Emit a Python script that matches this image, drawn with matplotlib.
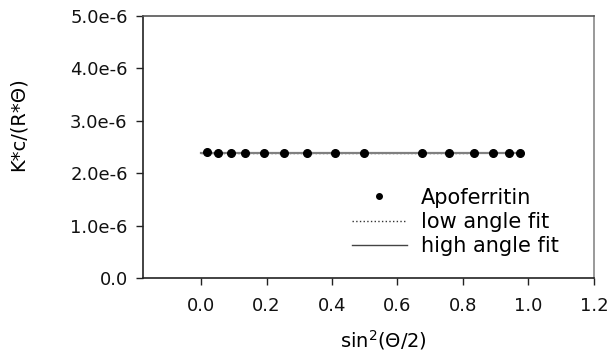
import matplotlib
matplotlib.use("Agg")
import matplotlib.pyplot as plt
from matplotlib.lines import Line2D

plt.rcParams['font.family'] = ['DejaVu Sans']
plt.rcParams['mathtext.fontset'] = 'dejavusans'

# Data
sin2_half_theta = [0.017, 0.051, 0.091, 0.135, 0.191, 0.252, 0.324, 0.410,
                   0.498, 0.675, 0.757, 0.833, 0.892, 0.940, 0.974]
kc_over_r = [2.40e-6, 2.39e-6, 2.39e-6, 2.39e-6, 2.39e-6, 2.39e-6, 2.39e-6, 2.39e-6,
             2.39e-6, 2.39e-6, 2.39e-6, 2.39e-6, 2.39e-6, 2.39e-6, 2.39e-6]
low_fit_x = [0.0, 0.83]
low_fit_y = [2.39e-6, 2.39e-6]
high_fit_x = [0.0, 0.985]
high_fit_y = [2.39e-6, 2.39e-6]

x_ticks = [0.0, 0.2, 0.4, 0.6, 0.8, 1.0, 1.2]
x_tick_labels = ["0.0", "0.2", "0.4", "0.6", "0.8", "1.0", "1.2"]
y_ticks = [0.0, 1e-6, 2e-6, 3e-6, 4e-6, 5e-6]
y_tick_labels = ["0.0", "1.0e-6", "2.0e-6", "3.0e-6", "4.0e-6", "5.0e-6"]

fig = plt.figure(figsize=(6.16, 3.54), dpi=100)
ax = fig.add_axes([0.232, 0.2147, 0.732, 0.7403])

ax.plot(low_fit_x, low_fit_y, linestyle=':', color='#333333', linewidth=1.0, zorder=2)
ax.plot(high_fit_x, high_fit_y, linestyle='-', color='#808080', linewidth=1.6, zorder=2)
ax.plot(sin2_half_theta, kc_over_r, linestyle='none', marker='o', markersize=5.5,
        color='black', zorder=3)

ax.set_xlim(-0.178, 1.2)
ax.set_ylim(0, 5e-6)
ax.set_xticks(x_ticks)
ax.set_xticklabels(x_tick_labels, fontsize=13)
ax.set_yticks(y_ticks)
ax.set_yticklabels(y_tick_labels, fontsize=13)
ax.tick_params(axis='both', direction='out', length=5, width=1, colors='#222222',
               labelcolor='#111111')
ax.tick_params(axis='x', pad=9)
ax.tick_params(axis='y', pad=6)

ax.spines['left'].set_color('#222222')
ax.spines['bottom'].set_color('#222222')
ax.spines['top'].set_color('#555555')
ax.spines['right'].set_color('#888888')
for s in ax.spines.values():
    s.set_linewidth(1.2)

ax.set_xlabel("sin$^{2}$(Θ/2)", fontsize=14)
ax.set_ylabel("K*c/(R*Θ)", fontsize=14)
ax.xaxis.set_label_coords(0.532, -0.19)
ax.yaxis.set_label_coords(-0.255, 0.588)

handles = [
    Line2D([], [], linestyle='none', marker='o', markersize=4, color='black'),
    Line2D([], [], linestyle=':', color='#333333', linewidth=1.0),
    Line2D([], [], linestyle='-', color='#444444', linewidth=1.0),
]
labels = ["Apoferritin", "low angle fit", "high angle fit"]
fig.legend(handles, labels, loc='center left', bbox_to_anchor=(0.545, 0.373),
           frameon=False, fontsize=15, handlelength=2.6, handletextpad=0.7,
           labelspacing=0.2, borderpad=0.3)

fig.savefig("out.png", dpi=100)
